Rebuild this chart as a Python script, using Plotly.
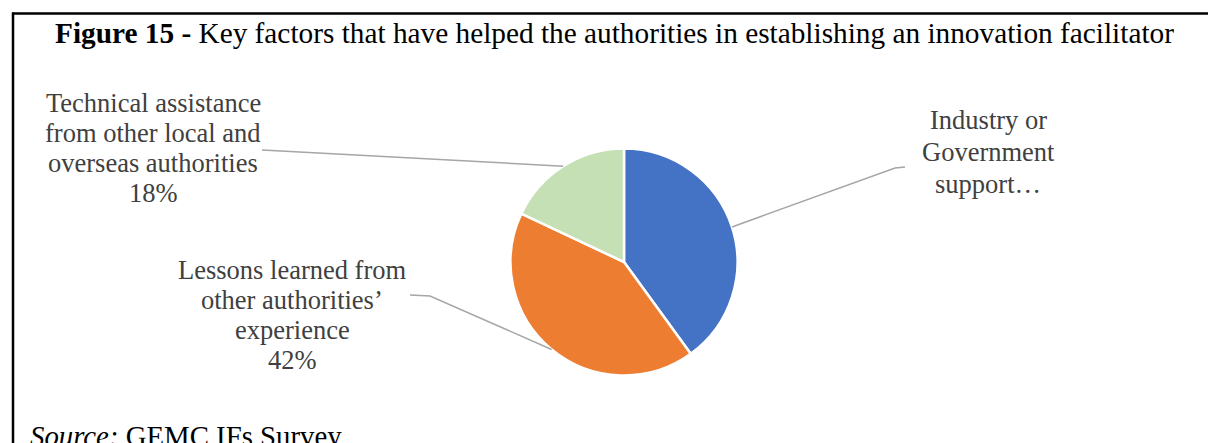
import math
import plotly.graph_objects as go

# ---- data ----
categories = ["Industry or Government support", "Lessons learned from other authorities’ experience",
              "Technical assistance from other local and overseas authorities"]
values = [40, 42, 18]
colors = ["#4472C4", "#ED7D31", "#C5E0B4"]
label_lines = [
    ["Industry or", "Government", "support…"],
    ["Lessons learned from", "other authorities’", "experience", "42%"],
    ["Technical assistance", "from other local and", "overseas authorities", "18%"],
]

W, H = 1208, 443
CX, CY, R = 624, 262, 113.5

def px(x):
    return x / W

def py(y):
    return 1 - y / H

fig = go.Figure()
fig.add_trace(go.Pie(
    labels=categories, values=values, sort=False, direction="clockwise", rotation=0,
    marker=dict(colors=colors, line=dict(color="white", width=2.5)),
    textinfo="none", hoverinfo="skip", showlegend=False,
    domain=dict(x=[px(CX - R), px(CX + R)], y=[py(CY + R), py(CY - R)]),
))

# label positions (layout): centre x, first line y, line spacing
label_pos = [(988, 120, 32), (292, 270, 30), (153, 103, 30)]
# leader ends (layout) near labels
leader_ends = [[(905, 167), (895, 168)], [(410, 295), (430, 296)], [(262, 150)]]

annotations = []
for (lx, ly, sp), lines in zip(label_pos, label_lines):
    for i, t in enumerate(lines):
        annotations.append(dict(x=px(lx), y=py(ly + i * sp), xref="paper", yref="paper",
                                text=t, showarrow=False, xanchor="center", yanchor="middle",
                                font=dict(family="Liberation Serif", size=26.5, color="#404040")))

shapes = []
total = sum(values)
cum = 0
for v, ends in zip(values, leader_ends):
    mid = (cum + v / 2) / total * 2 * math.pi
    cum += v
    sx, sy = CX + R * math.sin(mid), CY - R * math.cos(mid)
    pts = ends + [(sx, sy)]
    path = "M " + " L ".join(f"{px(x)},{py(y)}" for x, y in pts)
    shapes.append(dict(type="path", path=path, xref="paper", yref="paper",
                       line=dict(color="#A6A6A6", width=1.5)))

# frame lines
shapes.append(dict(type="line", xref="paper", yref="paper", x0=px(12), x1=px(1208), y0=py(13.5), y1=py(13.5),
                   line=dict(color="black", width=2.5)))
shapes.append(dict(type="line", xref="paper", yref="paper", x0=px(13), x1=px(13), y0=py(12.5), y1=py(443),
                   line=dict(color="black", width=2.5)))

annotations.append(dict(x=px(614), y=py(33), xref="paper", yref="paper", showarrow=False,
                        xanchor="center", yanchor="middle",
                        text="<b>Figure 15 -</b> Key factors that have helped the authorities in establishing an innovation facilitator",
                        font=dict(family="Liberation Serif", size=29.3, color="black")))
annotations.append(dict(x=px(28), y=py(436), xref="paper", yref="paper", showarrow=False,
                        xanchor="left", yanchor="middle",
                        text="<i>Source:</i> GEMC IFs Survey",
                        font=dict(family="Liberation Serif", size=28.8, color="black")))

fig.update_layout(width=W, height=H, margin=dict(l=0, r=0, t=0, b=0),
                  paper_bgcolor="white", plot_bgcolor="white",
                  annotations=annotations, shapes=shapes)
fig.write_html("out.html", config={"displayModeBar": False, "staticPlot": True},
               post_script="document.body.style.margin='0';document.body.style.overflow='hidden';")
